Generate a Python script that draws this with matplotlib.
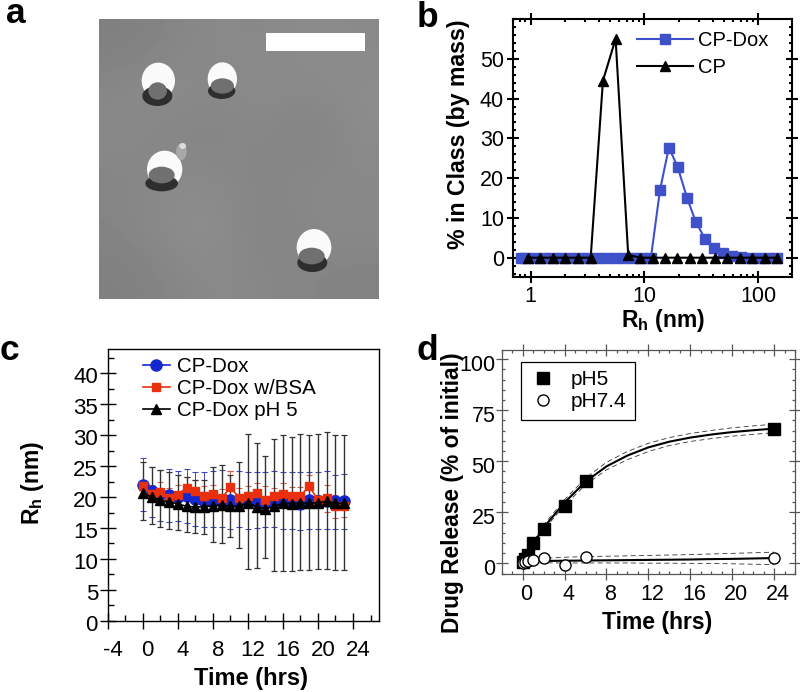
import matplotlib
matplotlib.use("Agg")
import matplotlib.pyplot as plt
from matplotlib.patches import Ellipse, Rectangle
from matplotlib.ticker import FixedLocator, MultipleLocator, NullFormatter
from matplotlib.transforms import ScaledTranslation

plt.rcParams["font.family"] = ["Liberation Sans", "DejaVu Sans"]
plt.rcParams["mathtext.default"] = "regular"
plt.rcParams["axes.unicode_minus"] = False

W, H = 800, 692

# panel a, in zoomed image coordinates
background_gray = [
    [0.50, 0.52, 0.54, 0.53, 0.55, 0.54],
    [0.53, 0.55, 0.53, 0.55, 0.54, 0.55],
    [0.54, 0.52, 0.52, 0.53, 0.50, 0.55],
    [0.52, 0.54, 0.54, 0.52, 0.54, 0.53],
    [0.52, 0.55, 0.56, 0.51, 0.53, 0.54],
    [0.50, 0.52, 0.54, 0.53, 0.52, 0.51],
]
white_blobs = [(205, 212, 100, 108), (397, 207, 88, 100), (224, 478, 106, 112), (672, 712, 104, 110)]
dark_blobs = [(202, 258, 90, 60), (395, 243, 82, 48), (215, 520, 98, 48), (667, 758, 90, 56)]
gray_blobs = [(203, 243, 56, 52), (397, 228, 70, 46), (215, 495, 78, 50), (665, 738, 78, 50)]

# panel b
cp_x = [0.95, 1.22, 1.57, 2.02, 2.6, 3.37, 4.32, 5.58, 7.2, 9.2, 11.8, 15.3, 19.4, 25.3, 32.2, 41.5, 53.5, 69, 88, 114, 147]
cp_y = [0, 0, 0, 0, 0, 0, 44.5, 55, 0.7, 0, 0, 0, 0, 0, 0, 0, 0, 0, 0, 0, 0]
dox_x = [0.82, 0.89, 1.06, 1.28, 1.53, 1.84, 2.2, 2.65, 3.2, 3.8, 4.6, 5.5, 6.6, 7.9, 9.5, 11.4, 13.7, 16.4, 19.6,
         23.7, 28.3, 34, 41, 49, 59, 71, 85, 102, 122, 147]
dox_y = [0, 0, 0, 0, 0, 0, 0, 0, 0, 0, 0, 0, 0, 0, 0, 0, 17, 27.7, 22.8, 15, 9, 4.8, 2.4, 1.2, 0.5, 0.2, 0, 0, 0, 0]

# panel c
hours = list(range(24))
blue_mean = [22, 21, 20.5, 20.3, 20, 20.2, 19.7, 19.3, 19.4, 19.2, 19.5, 19.1, 19.2, 19.4, 19.1, 19.2, 19.2, 19.1, 18.9, 19.5, 19.3, 19.4, 19.3, 19.4]
blue_hi = [26.3, 24.8, 24.3, 24.6, 24.2, 24.6, 24, 24, 24.2, 24.3, 24.2, 24.2, 24.1, 24.1, 24, 24.2, 24, 24.1, 24, 24, 24.1, 24.2, 23.6, 23.8]
blue_lo = [17.8, 16.8, 16.2, 15.9, 16.2, 15.8, 15.4, 15.2, 15.2, 15.2, 14.9, 15.1, 14.9, 15, 15.1, 15.1, 14.8, 14.9, 14.7, 14.9, 14.9, 14.9, 14.8, 14.9]
red_mean = [21.8, 20.5, 20.8, 19.9, 20.4, 21.5, 21, 20.2, 20.5, 19.8, 21.6, 19.9, 20.2, 20.6, 19.6, 20.1, 20.5, 20.2, 20.2, 21.8, 19.5, 19.8, 18.5, 18.5]
red_hi = [22.5, 22, 22.4, 21.5, 22, 23.2, 22.7, 21.8, 22, 21.3, 24.2, 21.5, 21.8, 22.3, 21.8, 21.5, 22.2, 21.6, 21.6, 23.5, 20.3, 22, 20.3, 20.2]
red_lo = [21, 19.2, 19.3, 18.5, 18.9, 19.8, 19.4, 18.7, 19, 18.4, 19.2, 18.4, 18.7, 18.9, 17.4, 18.7, 18.9, 18.8, 18.8, 20.2, 18.7, 17.6, 16.6, 16.8]
black_mean = [20.7, 20, 19.5, 19.2, 18.9, 18.5, 18.4, 18.4, 18.6, 18.7, 18.5, 18.5, 19.1, 18.4, 18.1, 18.5, 19, 18.9, 19, 19, 19.1, 19.3, 19, 19]
black_hi = [25.7, 24.8, 24.3, 24, 23.5, 23.2, 22.8, 22.8, 24.9, 25.2, 23.6, 25.6, 30.2, 28.8, 26.6, 29.4, 30, 29.7, 30.2, 30, 30.2, 30.6, 30.1, 30.1]
black_lo = [16.3, 15.6, 15.2, 14.8, 14.6, 14.3, 14.2, 14.1, 12.7, 12.6, 13.5, 11.7, 8.3, 8.5, 10.1, 8, 8.1, 8.1, 8.2, 8.2, 8.3, 8.4, 8.2, 8.2]

# panel d
release_t = [0, 0.25, 0.5, 1, 2, 4, 6, 24]
ph5_y = [0.5, 2, 4, 10, 17, 28, 40.5, 66]
ph74_y = [0.3, 0.5, 1, 1.8, 2.5, -1, 3, 2.7]
fit_t = [0, 1, 2, 4, 6, 8, 10, 12, 14, 16, 18, 20, 22, 24]
ph5_fit = [0, 9.5, 17.5, 29.8, 40, 47.5, 52.8, 56.8, 59.6, 61.6, 63.1, 64.3, 65.2, 66]
ph5_fit_hi = [0.5, 10.5, 18.8, 31.2, 41.7, 49.5, 54.8, 58.8, 61.6, 63.6, 65.1, 66.4, 67.3, 68.2]
ph5_fit_lo = [0, 8.7, 16.4, 28.4, 38.5, 45.8, 50.8, 54.8, 57.7, 59.7, 61.1, 62.3, 63.2, 64]
ph74_fit = [0.3, 1.1, 1.2, 1.3, 1.4, 1.5, 1.6, 1.7, 1.8, 1.9, 2.1, 2.2, 2.4, 2.6]
ph74_fit_hi = [1, 2, 2.5, 3, 3.3, 3.5, 3.7, 3.9, 4.1, 4.3, 4.6, 4.9, 5.2, 5.5]
ph74_fit_lo = [0, 0.3, 0.3, 0.2, 0.2, 0.2, 0.2, 0.1, 0.1, 0, 0, -0.2, -0.4, -0.6]


def px_axes(fig, left, top, right, bottom):
    return fig.add_axes([left / W, 1 - bottom / H, (right - left) / W, (bottom - top) / H])


def px_text(fig, x, y, s, **kw):
    kw.setdefault("ha", "center")
    kw.setdefault("va", "center")
    fig.text(x / W, 1 - y / H, s, **kw)


def shift_labels(fig, ax, dx, dy):
    off = ScaledTranslation(dx / 100, 0, fig.dpi_scale_trans)
    for lab in ax.get_xticklabels():
        lab.set_transform(lab.get_transform() + off)
    off = ScaledTranslation(0, -dy / 100, fig.dpi_scale_trans)
    for lab in ax.get_yticklabels():
        lab.set_transform(lab.get_transform() + off)


def style_ticks(ax, color="black", lw=1.0, pad=3, size=15.5):
    ax.tick_params(which="major", direction="inout", length=9, width=lw, top=True, right=True,
                   labelsize=size, pad=pad, color=color)
    ax.tick_params(which="minor", direction="in", length=2.5, width=lw, top=True, right=True, color=color)
    for sp in ax.spines.values():
        sp.set_linewidth(lw)
        sp.set_color(color)


fig = plt.figure(figsize=(8, 6.92), dpi=100)

# a: micrograph
ax_a = px_axes(fig, 99, 19.3, 379, 298.7)
ax_a.imshow(background_gray, cmap="gray", vmin=0, vmax=1, extent=(27, 867, 866, 28),
            interpolation="bicubic", aspect="auto")
for (x, y, w, h) in white_blobs:
    ax_a.add_patch(Ellipse((x, y), w, h, color="#fbfbfb", lw=0))
for (x, y, w, h) in dark_blobs:
    ax_a.add_patch(Ellipse((x, y), w, h, color="#2e2e2e", lw=0))
for (x, y, w, h) in gray_blobs:
    ax_a.add_patch(Ellipse((x, y), w, h, color="#707070", lw=0))
ax_a.add_patch(Ellipse((274, 425), 32, 50, color="#a8a8a8", lw=0))
ax_a.add_patch(Ellipse((278, 408), 20, 18, color="#dcdcdc", lw=0))
ax_a.add_patch(Rectangle((528, 70), 298, 53, color="white", lw=0))
ax_a.set_xlim(27, 867)
ax_a.set_ylim(866, 28)
ax_a.axis("off")

# b: size distribution
ax_b = px_axes(fig, 513, 19, 792, 277)
ax_b.semilogx(dox_x, dox_y, "-s", color="#3f51c8", lw=1.5, ms=7, label="CP-Dox")
ax_b.semilogx(cp_x, cp_y, "-^", color="black", lw=1.5, ms=7.5, label="CP")
ax_b.set_xlim(0.70, 198)
ax_b.set_ylim(-4.85, 60)
ax_b.set_xticks([1, 10, 100])
ax_b.set_xticklabels(["1", "10", "100"])
ax_b.set_yticks([0, 10, 20, 30, 40, 50])
ax_b.xaxis.set_minor_locator(FixedLocator([m * d for d in (0.1, 1, 10, 100) for m in (2, 3, 4, 5, 6, 7, 8, 9)]))
ax_b.xaxis.set_minor_formatter(NullFormatter())
ax_b.yaxis.set_minor_locator(MultipleLocator(2))
style_ticks(ax_b, lw=1.5, pad=2)
ax_b.legend(loc="upper left", bbox_to_anchor=(637 / W, 1 - 31 / H), bbox_transform=fig.transFigure,
            frameon=False, fontsize=14.5, handlelength=2.8, handletextpad=0.25, labelspacing=0.42,
            borderpad=0, borderaxespad=0)

# c: size over time
ax_c = px_axes(fig, 107.7, 348.7, 379.3, 620.7)
for mean, lo, hi, col in [(blue_mean, blue_lo, blue_hi, "#3a48c0"), (red_mean, red_lo, red_hi, "#d8604a")]:
    ax_c.vlines(hours, lo, hi, color=col, lw=0.7)
    ax_c.plot(hours, lo, "_", color=col, ms=5, mew=0.8)
    ax_c.plot(hours, hi, "_", color=col, ms=5, mew=0.8)
ax_c.vlines(hours, black_lo, black_hi, color="#333333", lw=1.0)
ax_c.plot(hours, black_lo, "_", color="#333333", ms=5, mew=0.9)
ax_c.plot(hours, black_hi, "_", color="#333333", ms=5, mew=0.9)
ax_c.plot(hours, blue_mean, "-o", color="#1428d0", lw=1.2, ms=8, label="CP-Dox")
ax_c.plot(hours, red_mean, "-s", color="#e8300f", lw=1.2, ms=6, label="CP-Dox w/BSA")
ax_c.plot(hours, black_mean, "-^", color="black", lw=1.2, ms=6.5, label="CP-Dox pH 5")
ax_c.set_xlim(-4, 27)
ax_c.set_ylim(0, 44)
ax_c.set_xticks(range(-4, 25, 4))
ax_c.set_yticks(range(0, 41, 5))
ax_c.xaxis.set_minor_locator(MultipleLocator(2))
ax_c.yaxis.set_minor_locator(MultipleLocator(2.5))
style_ticks(ax_c, pad=1, size=16)
ax_c.tick_params(which="major", top=False, right=False, length=12)
ax_c.tick_params(which="minor", top=False, right=False, length=4)
ax_c.tick_params(axis="x", which="major", pad=8)
shift_labels(fig, ax_c, 5, 2)
ax_c.legend(loc="upper left", bbox_to_anchor=(143 / W, 1 - 357 / H), bbox_transform=fig.transFigure,
            frameon=False, fontsize=14.8, handlelength=1.3, handletextpad=0.35, labelspacing=0.14,
            borderpad=0, borderaxespad=0)

# d: drug release
ax_d = px_axes(fig, 501.7, 350, 795, 574)
ax_d.plot(fit_t, ph5_fit_hi, "--", color="#333333", lw=0.6, dashes=(6, 4))
ax_d.plot(fit_t, ph5_fit_lo, "--", color="#333333", lw=0.6, dashes=(6, 4))
ax_d.plot(fit_t, ph74_fit_hi, "--", color="#333333", lw=0.6, dashes=(6, 4))
ax_d.plot(fit_t, ph74_fit_lo, "--", color="#333333", lw=0.6, dashes=(6, 4))
ax_d.plot(fit_t, ph5_fit, "-", color="black", lw=1.5)
ax_d.plot(fit_t, ph74_fit, "-", color="black", lw=1.5)
ax_d.plot(release_t, ph5_y, "s", color="black", ms=8.6, label="pH5", clip_on=False)
ax_d.plot(release_t, ph74_y, "o", mfc="white", mec="black", mew=1, ms=8, label="pH7.4", clip_on=False)
ax_d.set_xlim(-2, 26)
ax_d.set_ylim(-5.2, 104.5)
ax_d.set_xticks(range(0, 25, 4))
ax_d.set_yticks(range(0, 101, 25))
ax_d.xaxis.set_minor_locator(MultipleLocator(1))
ax_d.yaxis.set_minor_locator(MultipleLocator(5))
style_ticks(ax_d, color="#555555", lw=0.9, pad=0)
ax_d.tick_params(which="major", labelcolor="black")
ax_d.tick_params(axis="x", which="major", pad=3)
shift_labels(fig, ax_d, 4, 4)
leg = ax_d.legend(loc="upper left", bbox_to_anchor=(521 / W, 1 - 362 / H), bbox_transform=fig.transFigure,
                  frameon=True, fancybox=False, framealpha=1, edgecolor="black", fontsize=15,
                  handlelength=1.3, handletextpad=0.7, labelspacing=0.15, borderpad=0.4, borderaxespad=0)
leg.get_frame().set_linewidth(0.9)

# labels
px_text(fig, 663, 320, "R$_{h}$ (nm)", fontsize=16.5, fontweight="bold")
px_text(fig, 458, 134, "% in Class (by mass)", fontsize=16.7, fontweight="bold", rotation=90)
px_text(fig, 251, 678, "Time (hrs)", fontsize=17, fontweight="bold")
px_text(fig, 33, 483, "R$_{h}$ (nm)", fontsize=16.5, fontweight="bold", rotation=90)
px_text(fig, 657, 622, "Time (hrs)", fontsize=16.5, fontweight="bold")
px_text(fig, 453, 493, "Drug Release (% of initial)", fontsize=16.4, fontweight="bold", rotation=90)

for s, x, y in [("a", 6, 23), ("b", 417, 27), ("c", 0, 360), ("d", 416, 360)]:
    px_text(fig, x, y, s, fontsize=25.5, fontweight="bold", ha="left", va="baseline")

fig.savefig("out.png", dpi=100)
